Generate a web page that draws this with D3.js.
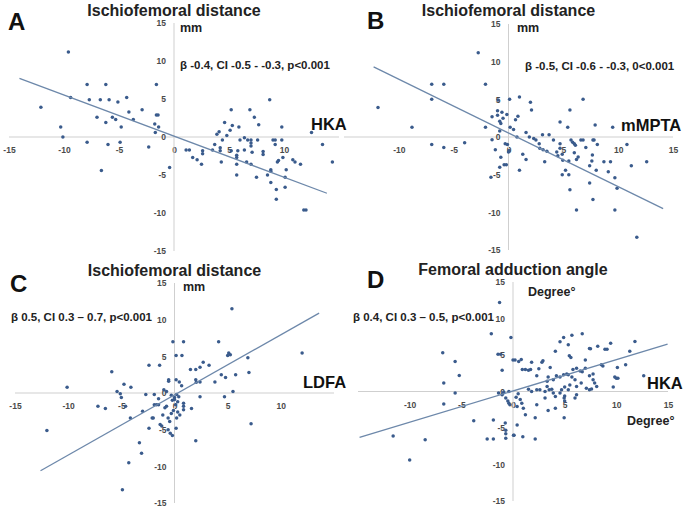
<!DOCTYPE html>
<html><head><meta charset="utf-8">
<script src="https://cdn.jsdelivr.net/npm/d3@7"></script>
<style>
body{margin:0;background:#fff}
svg{display:block}
text{font-family:"Liberation Sans",Arial,sans-serif;font-weight:bold}
</style>
</head><body>
<svg id="chart" width="685" height="510"></svg>
<script>
// ---------------- DATA ----------------
const axisDomain = [-15, 15];
const yTickValues = [-15, -10, -5, 0, 5, 10, 15];
const yTickLabels = ["-15", "-10", "-5", "0", "5", "10", "15"];
// x tick labels visible in each (cropped) panel
const xTicksA = [-15, -10, -5, 0, 5, 10];
const xTicksB = [-10, -5, 0, 5, 10, 15];
const xTicksC = [-15, -10, -5, 0, 5, 10];
const xTicksD = [-10, -5, 0, 5, 10, 15];
const panelLetters = ["A", "B", "C", "D"];
const panelTitles = ["Ischiofemoral distance", "Ischiofemoral distance", "Ischiofemoral distance", "Femoral adduction angle"];
const yUnits = ["mm", "mm", "mm", "Degree°"];
const xNames = ["HKA", "mMPTA", "LDFA", "HKA"];
const xUnits = ["", "", "", "Degree°"];
const statsText = [
  "β -0.4, CI -0.5 - -0.3, p<0.001",
  "β -0.5, CI -0.6 - -0.3, 0<0.001",
  "β 0.5, CI 0.3 – 0.7, p<0.001",
  "β 0.4, CI 0.3 – 0.5, p<0.001"
];

// scatter values [x, y]
const pointsA = [
  [-9.6,11.2],[-12.1,3.9],[-10.3,1.3],[-10.1,0.0],[-9.4,5.2],[-7.9,6.9],[-7.7,4.9],[-7.9,-0.7],
  [-7.0,2.6],[-6.7,4.9],[-6.6,-4.4],[-6.2,6.9],[-6.2,1.9],[-5.9,4.9],[-6.0,-1.0],[-5.6,2.6],
  [-5.3,2.3],[-5.1,4.6],[-4.8,1.3],[-4.9,-0.7],[-4.3,5.2],[-4.1,3.3],[-3.7,2.3],[-2.9,3.6],
  [-2.3,-1.3],[-1.6,6.9],[-1.6,2.9],[-1.45,2.9],[-1.75,1.7],[-1.4,1.3],[-1.7,0.6],[-0.4,-4.0],
  [8.7,4.9],[5.2,3.6],[6.9,3.6],[7.3,2.6],[7.7,1.6],[4.6,1.9],[5.3,1.5],[5.9,1.3],[9.8,1.3],
  [12.5,0.6],[4.1,0.7],[3.9,0.35],[5.1,0.9],[4.8,0.2],[4.4,-0.4],[6.4,-0.1],[6.0,-0.4],[6.7,-0.4],
  [7.0,-0.4],[7.0,-0.8],[7.0,-1.2],[7.6,-0.4],[9.0,-0.4],[9.2,-0.4],[9.2,-1.0],[9.8,-0.4],
  [13.5,-1.0],[14.4,-3.3],[1.1,-1.7],[1.4,-1.7],[1.7,-2.7],[2.1,-3.0],[2.5,-3.6],[2.6,-1.8],
  [2.6,-2.2],[3.5,-1.7],[3.7,-1.0],[4.2,-1.4],[4.2,-1.8],[4.3,-3.3],[5.2,-1.8],[5.7,-2.4],
  [5.7,-2.7],[5.8,-1.8],[6.4,-1.7],[5.7,-3.6],[5.7,-5.0],[6.6,-3.3],[7.0,-3.6],[7.1,-2.0],
  [8.1,-1.9],[8.1,-2.3],[7.5,-5.3],[8.5,-5.0],[8.8,-4.3],[8.8,-4.5],[8.8,-6.0],[9.4,-3.3],
  [9.5,-3.1],[9.3,-6.9],[9.3,-8.2],[9.9,-2.7],[10.1,-5.3],[10.2,-4.3],[10.1,-6.6],[10.8,-3.0],
  [11.0,-3.3],[11.5,-3.6],[11.8,-9.6],[12.0,-9.6]
];
const pointsB = [
  [-2.76,11.2],[-11.9,3.9],[-8.8,1.3],[-7.0,7.0],[-5.9,7.0],[-7.0,5.0],[-7.0,-1.0],[-5.9,-1.4],
  [-4.0,-0.75],[-2.1,7.0],[-2.1,1.3],[-1.5,2.7],[-1.0,3.5],[-0.6,3.3],[-1.0,2.9],[-0.5,2.5],
  [-0.8,2.1],[-0.7,1.8],[-0.95,4.9],[-0.8,0.8],[-1.5,-0.35],[-1.2,-1.7],[-0.7,-2.7],[-0.4,-3.7],
  [-0.2,-3.7],[-0.8,-4.0],[-1.6,-5.35],[-0.3,-0.9],[0.06,-1.8],[0.1,5.0],[1.0,5.3],[2.0,4.6],
  [2.1,3.6],[-0.15,3.0],[0.86,2.75],[0.64,2.3],[0.15,1.3],[0.46,1.0],[0.77,0.0],[1.6,0.6],
  [1.9,0.0],[2.3,-0.2],[2.5,-0.4],[3.1,0.3],[3.7,0.3],[2.8,-0.9],[4.1,-0.4],[4.7,2.0],[5.4,1.3],
  [5.6,3.6],[6.8,5.0],[7.9,1.6],[9.5,1.3],[10.8,-1.0],[2.85,-1.5],[3.15,-1.7],[3.5,-1.9],
  [4.4,-2.0],[4.5,-2.5],[4.9,-2.3],[4.95,-3.1],[4.7,-1.5],[4.7,-0.9],[5.7,-0.4],[5.85,-0.7],
  [6.0,-0.9],[6.1,-1.1],[6.6,-0.4],[6.8,-0.4],[7.7,-0.4],[7.8,-0.4],[8.1,-1.0],[7.05,-1.4],
  [6.0,-2.1],[6.35,-2.65],[6.2,-3.0],[5.5,-3.2],[3.3,-3.3],[1.6,-3.0],[1.3,-2.3],[1.0,-4.4],
  [4.9,-5.0],[5.5,-5.0],[5.2,-4.4],[5.6,-7.0],[6.2,-9.7],[7.6,-3.2],[7.65,-2.4],[7.4,-3.8],
  [8.0,-4.4],[7.4,-6.1],[7.7,-8.3],[8.7,-3.3],[9.3,-3.3],[9.1,-4.6],[9.7,-5.4],[9.9,-6.8],
  [9.7,-9.7],[11.2,-3.8],[12.6,-3.3],[11.7,-13.3],[0.0,-2.0],[-0.1,-1.0]
];
const pointsC = [
  [-12.0,-5.1],[-10.1,0.8],[-7.2,-1.8],[-6.5,-2.1],[-5.9,2.9],[-5.4,0.2],[-5.1,-0.1],[-5.0,-0.6],
  [-4.75,1.2],[-4.1,0.8],[-4.6,-1.8],[-4.15,-3.4],[-4.3,-9.5],[-4.9,-13.2],[-3.3,-6.8],[-3.1,-8.2],
  [-3.0,-2.5],[-2.7,-0.2],[-2.4,3.8],[-2.4,-4.8],[-2.1,-3.4],[-2.0,-3.4],[-1.9,-0.2],[-1.9,-1.6],
  [-1.7,-1.6],[-1.5,-1.6],[-1.4,3.8],[-1.5,-0.8],[-1.35,-4.3],[-1.2,-4.5],[-1.1,-3.0],[-0.9,-2.0],
  [-0.75,-1.8],[-1.0,0.45],[-0.75,0.2],[-0.6,-5.0],[-0.4,-5.5],[-0.2,-5.8],[-0.55,1.8],[-0.55,1.6],
  [-0.15,7.0],[-0.6,-3.4],[-0.45,-3.9],[5.4,11.5],[0.85,7.0],[4.15,7.0],[0.15,5.1],[0.7,5.1],
  [5.1,5.45],[5.25,5.2],[5.0,5.1],[6.9,4.8],[12.0,5.45],[2.7,4.2],[2.4,3.5],[3.25,3.8],[1.5,3.2],
  [2.0,3.2],[4.4,2.5],[4.8,2.1],[5.75,2.5],[7.0,2.8],[3.8,1.5],[2.0,1.8],[2.05,1.45],[2.4,1.5],
  [0.15,1.8],[0.45,1.5],[0.67,1.0],[5.5,0.2],[2.4,-0.5],[4.7,-0.5],[1.6,-2.1],[0.85,-1.8],
  [0.85,-2.3],[0.85,-1.4],[7.2,-4.2],[0.15,-4.8],[2.0,-6.5],[-0.3,-0.3],[0.0,-0.6],[0.2,-0.2],
  [-0.2,-1.0],[0.3,-1.2],[0.1,-1.6],[-0.1,-2.4],[0.3,-2.6],[0.5,-3.0],[-0.3,-2.8],[0.2,-3.4],
  [0.0,-0.9],[0.4,-0.5]
];
const pointsD = [
  [-1.3,12.2],[-2.1,7.9],[-0.2,7.4],[-6.8,5.3],[-5.6,4.1],[-5.2,2.2],[-6.7,1.15],[-5.6,-0.2],
  [-6.7,-1.7],[-1.45,5.1],[-1.2,5.1],[-1.05,2.9],[0.0,4.3],[-3.8,-4.0],[-1.9,-3.9],[-11.6,-6.1],
  [-8.5,-6.6],[-10.0,-9.4],[-2.5,-6.5],[-1.9,-6.5],[-0.75,-4.3],[-0.7,-5.3],[-0.7,-5.8],[-0.7,-6.4],
  [0.05,-6.0],[-1.4,-0.2],[-1.05,-0.45],[-0.7,-0.9],[-0.5,-1.3],[-0.4,-1.6],[-0.3,-1.8],[-0.9,-0.1],
  [-0.4,0.0],[0.2,4.3],[0.55,4.1],[0.8,4.4],[0.9,3.0],[1.2,3.0],[1.5,2.9],[1.7,3.0],[1.8,4.0],
  [2.9,4.2],[2.8,4.0],[2.5,3.1],[3.6,3.3],[4.1,5.5],[4.55,6.8],[4.9,7.4],[5.35,6.4],[5.7,7.7],
  [6.7,7.9],[5.45,4.9],[5.6,4.65],[7.0,4.3],[7.4,5.9],[7.5,5.85],[8.2,6.2],[8.9,5.8],[9.1,5.8],
  [9.45,6.6],[11.8,6.85],[11.3,5.5],[8.55,3.65],[8.7,3.5],[10.1,3.3],[10.9,3.65],[9.85,2.0],
  [10.0,1.8],[10.15,1.8],[9.7,0.6],[12.65,2.15],[5.8,3.0],[6.15,3.2],[6.5,2.8],[6.7,2.7],[7.0,3.2],
  [4.9,2.3],[5.2,2.4],[5.35,2.3],[4.2,2.15],[4.55,2.0],[3.9,1.6],[3.4,2.0],[3.3,1.4],[2.3,2.15],
  [5.7,2.0],[6.0,1.6],[7.4,2.15],[7.75,2.4],[7.75,1.6],[7.9,1.15],[6.6,1.15],[6.15,0.7],[7.1,0.45],
  [7.4,0.25],[7.6,0.35],[8.1,0.7],[5.35,0.25],[5.0,0.6],[5.5,0.9],[4.7,0.25],[4.55,-0.2],[4.1,-0.7],
  [3.9,-0.2],[3.3,0.7],[3.5,0.25],[3.1,0.0],[3.75,0.3],[2.6,0.25],[2.3,0.25],[1.8,0.0],[1.5,0.3],
  [5.0,-0.6],[4.95,-0.9],[5.0,-1.3],[6.15,-0.45],[6.0,-0.9],[3.1,-0.9],[2.3,-1.8],[4.1,-2.3],
  [3.4,-2.6],[4.95,-3.6],[2.15,-3.6],[1.0,-2.3],[0.85,-1.6],[0.4,-2.05],[0.7,-1.1],[1.2,-3.2],
  [0.4,-4.6],[0.1,-6.0],[0.95,-6.2],[2.15,-6.5],[0.3,-0.8],[0.5,-0.3]
];
// regression line end points [x, y]
const trendA = [[-14.05, 7.7], [13.9, -7.4]];
const trendB = [[-12.3, 9.3], [14.1, -9.5]];
const trendC = [[-12.6, -10.6], [13.6, 10.9]];
const trendD = [[-14.85, -6.3], [14.96, 6.5]];

const seriesPoints = [pointsA, pointsB, pointsC, pointsD];
const seriesTrends = [trendA, trendB, trendC, trendD];
const seriesXTicks = [xTicksA, xTicksB, xTicksC, xTicksD];

// ---------------- LAYOUT (pixels) ----------------
const frames = [
  {xr:[9,339],   yr:[251,23],  letter:[8,30],   title:16, unit:[180,32],  stats:[180,69],  name:[311,130], xunit:null},
  {xr:[344,673], yr:[250,24],  letter:[367,29], title:16, unit:[517,32],  stats:[525,70],  name:[621,131], xunit:null},
  {xr:[15,334],  yr:[503,283], letter:[10,292], title:276, unit:[183,291], stats:[11,321], name:[303,388], xunit:null},
  {xr:[358,668], yr:[501,282], letter:[367,288], title:275, unit:[528,296], stats:[353,321], name:[647,389], xunit:[627,425]}
];

const svg = d3.select("#chart");

frames.forEach((f, i) => {
  const x = d3.scaleLinear().domain(axisDomain).range(f.xr);
  const y = d3.scaleLinear().domain(axisDomain).range(f.yr);
  const g = svg.append("g");

  // axes crossing at zero, no tick marks
  const xAxis = d3.axisBottom(x).tickValues(seriesXTicks[i]).tickFormat(d => String(d)).tickSize(0).tickPadding(10);
  const yAxis = d3.axisLeft(y).tickValues(yTickValues).tickFormat((d, k) => yTickLabels[k]).tickSize(0).tickPadding(8);

  const gx = g.append("g").attr("transform", `translate(0,${y(0)})`).call(xAxis);
  const gy = g.append("g").attr("transform", `translate(${x(0)},0)`).call(yAxis);
  gx.select(".domain").attr("d", `M${x(axisDomain[0])},0H${x(axisDomain[1])}`);
  gy.select(".domain").attr("d", `M0,${y(axisDomain[1])}V${y(axisDomain[0])}`);
  [gx, gy].forEach(a => {
    a.select(".domain").attr("stroke", "#cfcfcf").attr("stroke-width", 1);
    a.selectAll("text").attr("fill", "#4a4a4a").style("font-size", "8.5px").style("font-weight", "bold")
      .style("font-family", '"Liberation Sans",Arial,sans-serif');
  });

  // points
  g.append("g").selectAll("circle").data(seriesPoints[i]).join("circle")
    .attr("cx", d => x(d[0])).attr("cy", d => y(d[1])).attr("r", 1.75)
    .attr("fill", "#3a5b8c");

  // trend line
  g.append("path").datum(seriesTrends[i])
    .attr("d", d3.line().x(d => x(d[0])).y(d => y(d[1])))
    .attr("stroke", "#6d88aa").attr("stroke-width", 1.3).attr("fill", "none");

  // texts
  g.append("text").attr("x", f.letter[0]).attr("y", f.letter[1]).attr("font-size", 24).attr("fill", "#111").text(panelLetters[i]);
  g.append("text").attr("x", x(0)).attr("y", f.title).attr("text-anchor", "middle").attr("font-size", 16).attr("fill", "#222").text(panelTitles[i]);
  g.append("text").attr("x", f.unit[0]).attr("y", f.unit[1]).attr("font-size", 12.5).attr("fill", "#222").text(yUnits[i]);
  g.append("text").attr("x", f.stats[0]).attr("y", f.stats[1]).attr("font-size", 11.5).attr("fill", "#222").text(statsText[i]);
  g.append("text").attr("x", f.name[0]).attr("y", f.name[1]).attr("font-size", 16.5).attr("fill", "#111").text(xNames[i]);
  if (f.xunit) g.append("text").attr("x", f.xunit[0]).attr("y", f.xunit[1]).attr("font-size", 12.5).attr("fill", "#222").text(xUnits[i]);
});
</script>
</body></html>
